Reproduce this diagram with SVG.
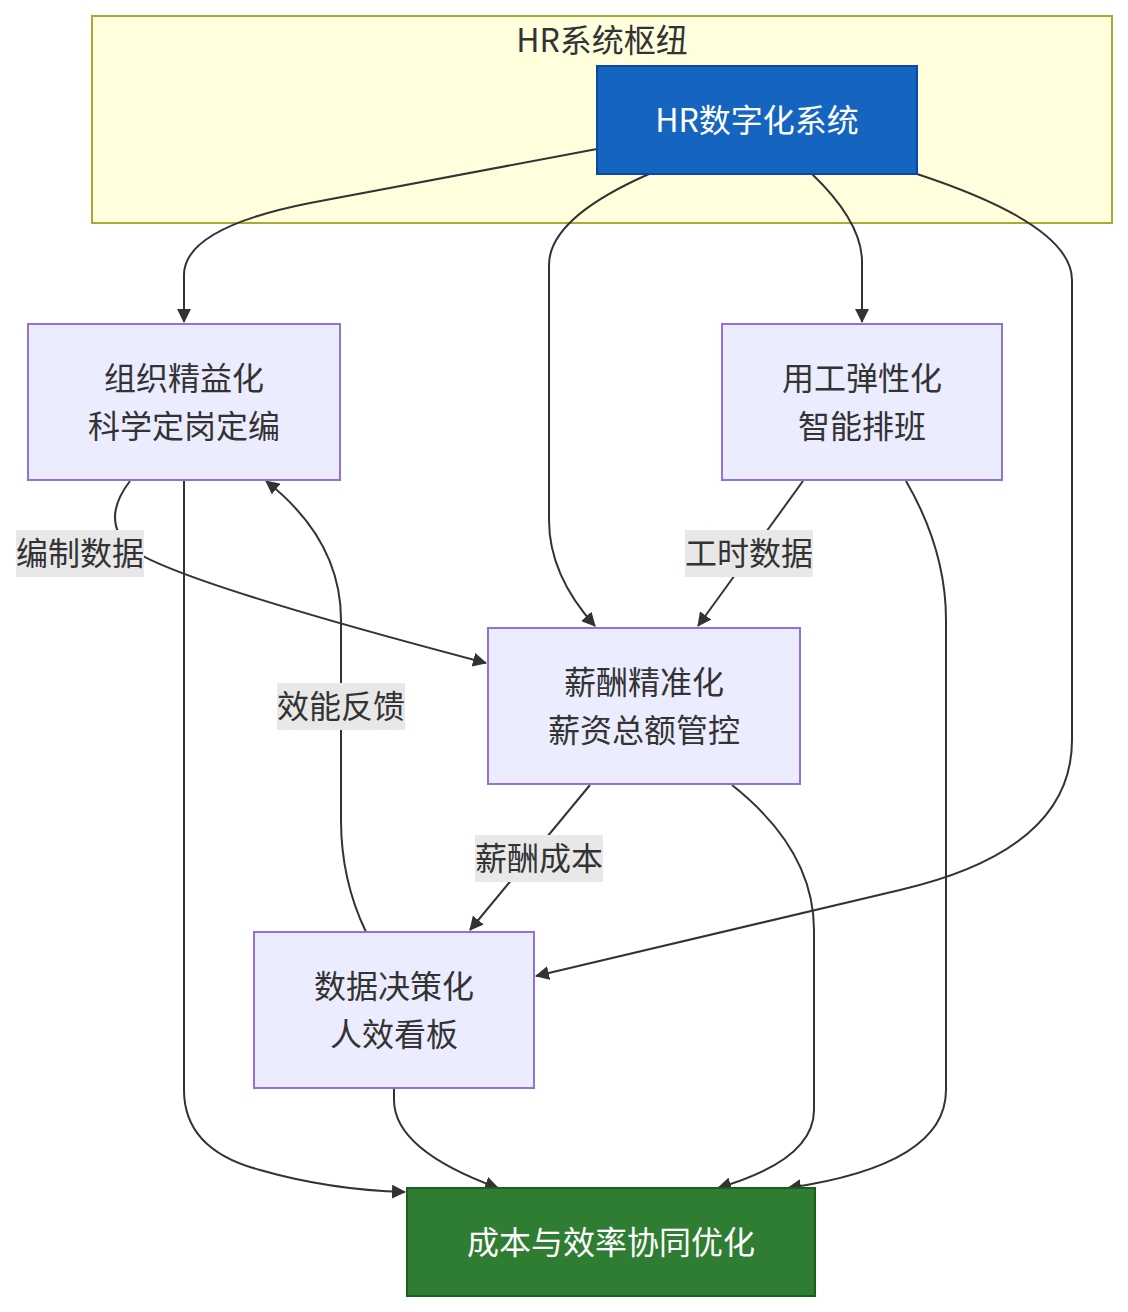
<svg xmlns="http://www.w3.org/2000/svg" width="1128" height="1312" viewBox="0 0 1128 1312">
<defs>
<marker id="arr" markerUnits="userSpaceOnUse" markerWidth="14" markerHeight="14" refX="13" refY="7" orient="auto">
<path d="M0,0 L14,7 L0,14 z" fill="#333"/>
</marker>
<style>
text{font-family:"Noto Sans CJK SC","Noto Sans",sans-serif;font-size:32px;text-anchor:middle;dominant-baseline:central;fill:#333}
.node rect{fill:#ececff;stroke:#9370db;stroke-width:2}
.edge{fill:none;stroke:#333;stroke-width:2;marker-end:url(#arr)}
.lbl{fill:#e8e8e8}
.w{fill:#fff}
</style>
</defs>
<rect x="92" y="16" width="1020" height="207" fill="#ffffde" stroke="#aaaa33" stroke-width="2"/>
<text x="602" y="38">HR系统枢纽</text>
<g id="connectors">
<path class="edge" d="M597,149 L310,203 Q184,228 184,275 L184,322"/>
<path class="edge" d="M649,174 Q549,218 549,265 L549,520 Q549,575 595,626"/>
<path class="edge" d="M812,174 Q862,222 862,262 L862,322"/>
<path class="edge" d="M917,174 Q1072,225 1072,280 L1072,740 Q1072,850 900,890 L536,976"/>
<path class="edge" d="M130,481 Q100,520 130,548 Q170,580 486,663"/>
<path class="edge" d="M184,481 L184,1090 Q184,1150 260,1170 Q330,1190 405,1192"/>
<path class="edge" d="M803,481 L698,626"/>
<path class="edge" d="M906,481 Q946,550 946,620 L946,1090 Q946,1165 788,1188"/>
<path class="edge" d="M590,785 L470,930"/>
<path class="edge" d="M732,785 Q814,850 814,930 L814,1110 Q814,1160 718,1188"/>
<path class="edge" d="M366,932 Q341,880 341,820 L341,620 Q341,540 266,481"/>
<path class="edge" d="M394,1088 L394,1100 Q394,1150 498,1188"/>
<rect class="lbl" x="16" y="530" width="128" height="47"/>
<text x="80" y="551">编制数据</text>
<rect class="lbl" x="685" y="530" width="128" height="47"/>
<text x="749" y="551">工时数据</text>
<rect class="lbl" x="475" y="835" width="128" height="47"/>
<text x="539" y="856">薪酬成本</text>
<rect class="lbl" x="277" y="683" width="128" height="47"/>
<text x="341" y="704">效能反馈</text>
</g>
<g id="hr">
<rect x="597" y="66" width="320" height="108" fill="#1565c0" stroke="#0d47a1" stroke-width="2"/>
<text class="w" x="757" y="118">HR数字化系统</text>
</g>
<g id="org" class="node">
<rect x="28" y="324" width="312" height="156"/>
<text x="184" y="376">组织精益化</text>
<text x="184" y="424">科学定岗定编</text>
</g>
<g id="labor" class="node">
<rect x="722" y="324" width="280" height="156"/>
<text x="862" y="376">用工弹性化</text>
<text x="862" y="424">智能排班</text>
</g>
<g id="pay" class="node">
<rect x="488" y="628" width="312" height="156"/>
<text x="644" y="680">薪酬精准化</text>
<text x="644" y="728">薪资总额管控</text>
</g>
<g id="data" class="node">
<rect x="254" y="932" width="280" height="156"/>
<text x="394" y="984">数据决策化</text>
<text x="394" y="1032">人效看板</text>
</g>
<g id="final">
<rect x="407" y="1188" width="408" height="108" fill="#2e7d32" stroke="#1b5e20" stroke-width="2"/>
<text class="w" x="611" y="1240">成本与效率协同优化</text>
</g>
</svg>
